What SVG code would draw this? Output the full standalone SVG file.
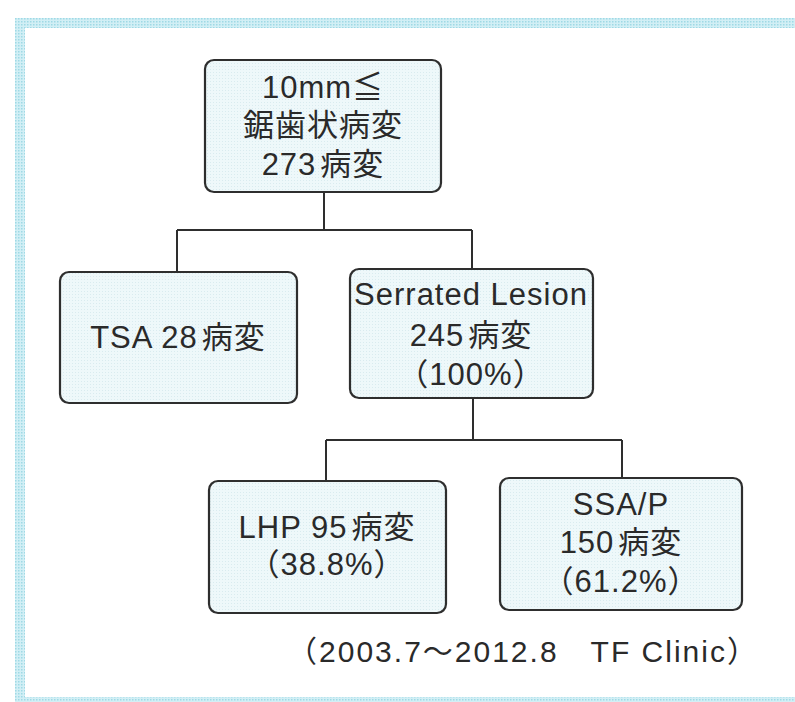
<svg xmlns="http://www.w3.org/2000/svg" width="795" height="702" viewBox="0 0 795 702">
<defs>
<pattern id="dots" width="3" height="3" patternUnits="userSpaceOnUse">
<rect width="3" height="3" fill="#d2eff5"/>
<rect width="1.5" height="1.5" fill="#9fd9e5"/>
</pattern>
<pattern id="boxdots" width="3" height="3" patternUnits="userSpaceOnUse">
<rect width="3" height="3" fill="#eef8fa"/>
<rect width="1" height="1" fill="#d9ebef"/>
</pattern>
</defs>
<style>
.box{fill:url(#boxdots);stroke:#2e2e2e;stroke-width:2.2}
.t{font-family:"Liberation Sans","Noto Sans CJK JP",sans-serif;font-size:31px;fill:#2a2a2a;text-anchor:middle;letter-spacing:1px}
.conn{fill:none;stroke:#2e2e2e;stroke-width:2}
.frame{fill:url(#dots)}
</style>
<rect width="795" height="702" fill="#ffffff"/>
<g id="frame">
<rect class="frame" x="15" y="18" width="780" height="10"/>
<rect class="frame" x="15" y="18" width="10" height="684"/>
<rect class="frame" x="15" y="697" width="780" height="5"/>
</g>
<g id="connectors">
<path class="conn" d="M324 192 V230 M177 230 H472 M177 230 V272 M472 230 V269"/>
<path class="conn" d="M473 398 V440 M326 440 H622 M326 440 V481 M622 440 V478"/>
</g>
<g id="root">
<rect class="box" x="205" y="60" width="236" height="132" rx="9"/>
<text class="t" x="323" y="98">10mm≦</text>
<text class="t" x="323" y="136">鋸歯状病変</text>
<text class="t" x="323" y="175">273<tspan dx="4">病変</tspan></text>
</g>
<g id="tsa">
<rect class="box" x="60" y="272" width="237" height="131" rx="9"/>
<text class="t" x="178" y="348">TSA 28<tspan dx="4">病変</tspan></text>
</g>
<g id="serrated">
<rect class="box" x="350" y="269" width="243" height="129" rx="9"/>
<text class="t" x="471" y="305">Serrated Lesion</text>
<text class="t" x="471" y="346">245<tspan dx="4">病変</tspan></text>
<text class="t" x="471" y="385">（100%）</text>
</g>
<g id="lhp">
<rect class="box" x="209" y="481" width="237" height="132" rx="9"/>
<text class="t" x="327" y="538">LHP 95<tspan dx="4">病変</tspan></text>
<text class="t" x="327" y="575">（38.8%）</text>
</g>
<g id="ssap">
<rect class="box" x="500" y="478" width="242" height="132" rx="9"/>
<text class="t" x="621" y="515">SSA/P</text>
<text class="t" x="621" y="553">150<tspan dx="4">病変</tspan></text>
<text class="t" x="621" y="592">（61.2%）</text>
</g>
<text class="t" x="523" y="662" style="font-size:30px;letter-spacing:2px">（2003.7～2012.8　TF Clinic）</text>
</svg>
